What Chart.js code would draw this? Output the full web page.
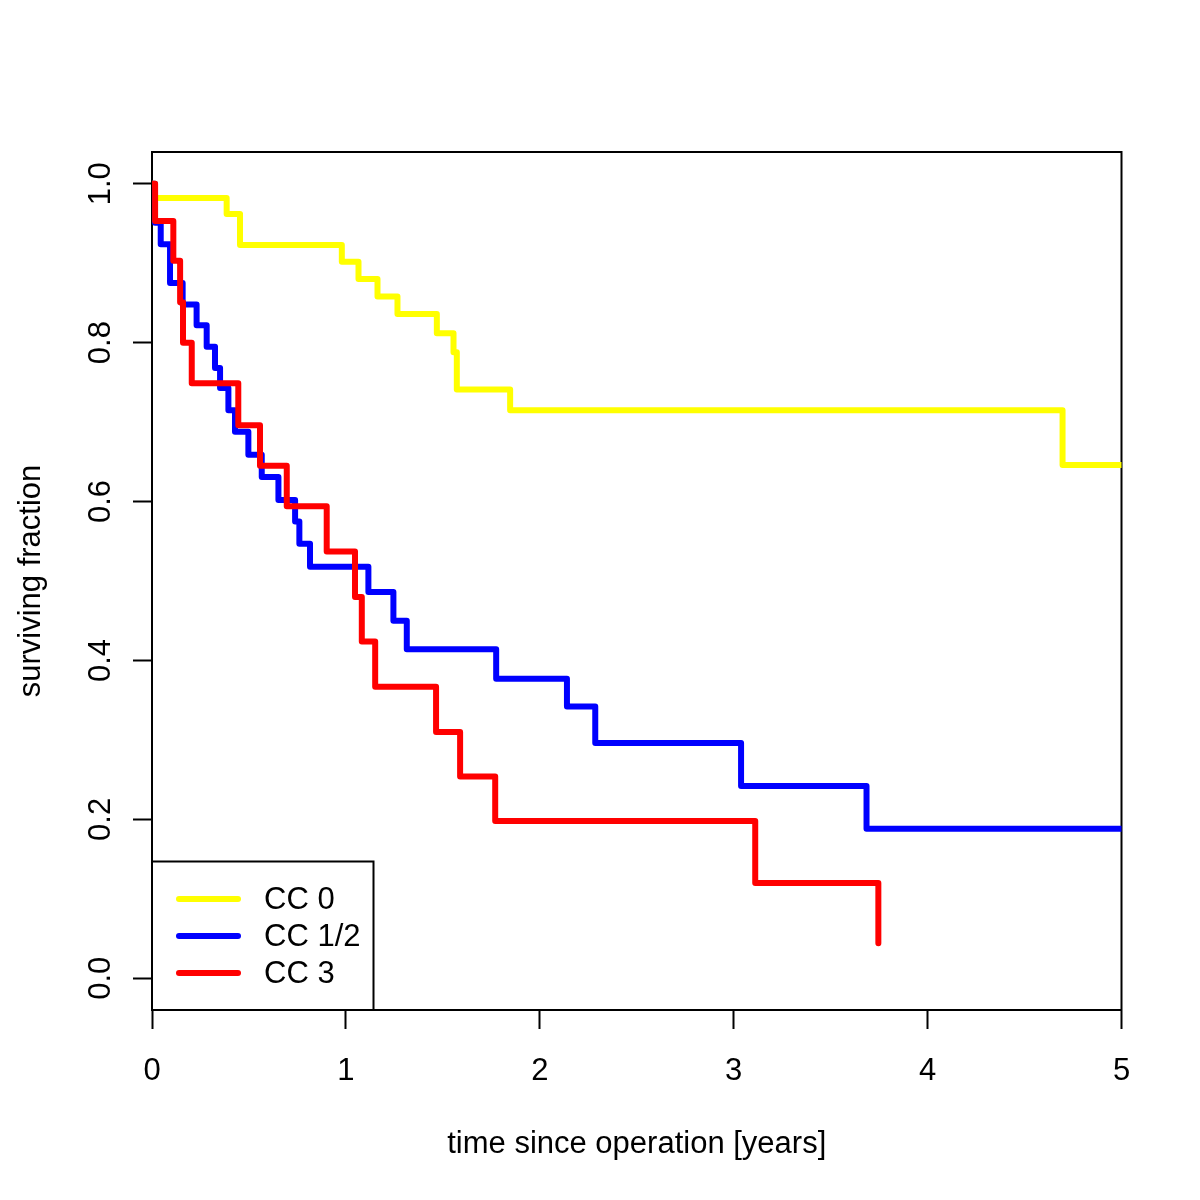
<!DOCTYPE html>
<html>
<head>
<meta charset="utf-8">
<script src="https://cdn.jsdelivr.net/npm/chart.js@4.4.1/dist/chart.umd.min.js"></script>
<style>
  html, body { margin: 0; padding: 0; background: #fff; }
  canvas { display: block; }
</style>
</head>
<body>
<canvas id="km" width="1200" height="1200"></canvas>
<script>
// Kaplan-Meier curves (time in years, surviving fraction)
const cc0Time = [0, 0.015, 0.385, 0.454, 0.979, 1.065, 1.163, 1.266, 1.469, 1.555, 1.572, 1.847, 4.696, 5.0];
const cc0Surv = [1.0, 0.982, 0.962, 0.923, 0.902, 0.880, 0.858, 0.836, 0.812, 0.788, 0.741, 0.715, 0.646, 0.646];

const cc12Time = [0, 0.015, 0.045, 0.093, 0.158, 0.230, 0.282, 0.325, 0.351, 0.394, 0.428, 0.497, 0.566, 0.652, 0.738, 0.760, 0.815, 1.116, 1.245, 1.314, 1.775, 2.140, 2.286, 3.038, 3.685, 5.0];
const cc12Surv = [1.0, 0.951, 0.924, 0.875, 0.848, 0.822, 0.795, 0.768, 0.743, 0.715, 0.688, 0.659, 0.631, 0.602, 0.575, 0.547, 0.518, 0.486, 0.450, 0.414, 0.377, 0.342, 0.296, 0.242, 0.188, 0.188];

const cc3Time = [0, 0.016, 0.110, 0.145, 0.160, 0.205, 0.445, 0.557, 0.695, 0.901, 1.047, 1.082, 1.151, 1.465, 1.589, 1.770, 3.111, 3.746];
const cc3Surv = [1.0, 0.953, 0.903, 0.851, 0.800, 0.749, 0.696, 0.645, 0.594, 0.537, 0.480, 0.424, 0.367, 0.310, 0.254, 0.198, 0.120, 0.044];

const groupNames = ["CC 0", "CC 1/2", "CC 3"];
const xTicks = [0, 1, 2, 3, 4, 5];
const yTicks = [0, 0.2, 0.4, 0.6, 0.8, 1.0];

const FONT = "'Liberation Sans', Arial, Helvetica, sans-serif";
const FSIZE = 31;
Chart.defaults.font.family = FONT;
Chart.defaults.font.size = FSIZE;
Chart.defaults.color = "#000";

function toPoints(ts, ss) {
  return ts.map((t, i) => ({ x: t, y: ss[i] }));
}

// survival stays flat until the next event time, then drops
function curve(label, ts, ss, color, order) {
  return {
    label: label,
    data: toPoints(ts, ss),
    borderColor: color,
    backgroundColor: color,
    borderWidth: 6,
    stepped: "before",
    pointRadius: 0,
    fill: false,
    borderCapStyle: "round",
    borderJoinStyle: "round",
    order: order
  };
}

// box around the plot region, like R's bty="o"
const boxPlugin = {
  id: "plotBox",
  beforeDatasetsDraw(chart) {
    const a = chart.chartArea, ctx = chart.ctx;
    ctx.save();
    ctx.strokeStyle = "#000";
    ctx.lineWidth = 2;
    ctx.strokeRect(a.left, a.top, a.right - a.left, a.bottom - a.top);
    ctx.restore();
  }
};

const cc0Idx = 2, cc12Idx = 1, cc3Idx = 0;

// legend in the bottom-left corner
const legendPlugin = {
  id: "rLegend",
  afterDatasetsDraw(chart) {
    const a = chart.chartArea, ctx = chart.ctx;
    const w = 221.5, h = 148.5;
    const x0 = a.left, y0 = a.bottom - h;
    ctx.save();
    ctx.fillStyle = "#fff";
    ctx.fillRect(x0, y0, w, h);
    ctx.strokeStyle = "#000";
    ctx.lineWidth = 2;
    ctx.strokeRect(x0, y0, w, h);
    [cc0Idx, cc12Idx, cc3Idx].forEach((di, i) => {
      const ds = chart.data.datasets[di];
      const y = y0 + 37.5 + i * 37;
      ctx.strokeStyle = ds.borderColor;
      ctx.lineWidth = 6;
      ctx.lineCap = "round";
      ctx.beginPath();
      ctx.moveTo(x0 + 27, y);
      ctx.lineTo(x0 + 86, y);
      ctx.stroke();
      ctx.fillStyle = "#000";
      ctx.font = FSIZE + "px " + FONT;
      ctx.textBaseline = "middle";
      ctx.textAlign = "left";
      ctx.fillText(ds.label, x0 + 112, y + 1);
    });
    ctx.restore();
  }
};

new Chart(document.getElementById("km"), {
  type: "line",
  data: {
    datasets: [
      curve(groupNames[2], cc3Time, cc3Surv, "#ff0000", 0),
      curve(groupNames[1], cc12Time, cc12Surv, "#0000ff", 1),
      curve(groupNames[0], cc0Time, cc0Surv, "#ffff00", 2)
    ]
  },
  options: {
    responsive: false,
    animation: false,
    layout: { padding: { top: 152, right: 78.5, left: 0, bottom: 0 } },
    plugins: {
      legend: { display: false },
      tooltip: { enabled: false }
    },
    scales: {
      x: {
        type: "linear",
        min: 0,
        max: 5,
        afterBuildTicks: s => { s.ticks = xTicks.map(v => ({ value: v })); },
        afterFit: s => { s.height = 190; },
        ticks: {
          padding: 24,
          maxRotation: 0,
          callback: v => String(v)
        },
        grid: {
          drawOnChartArea: false,
          drawTicks: true,
          tickLength: 19,
          tickWidth: 2,
          tickColor: "#000"
        },
        border: { display: true, color: "#000", width: 2 },
        title: {
          display: true,
          text: "time since operation [years]",
          padding: { top: 0, bottom: 37 }
        }
      },
      y: {
        type: "linear",
        min: -0.04,
        max: 1.04,
        afterBuildTicks: s => { s.ticks = yTicks.map(v => ({ value: v })); },
        afterFit: s => { s.width = 152; },
        ticks: {
          padding: 10,
          minRotation: 90,
          maxRotation: 90,
          crossAlign: "center",
          callback: v => Number(v).toFixed(1)
        },
        grid: {
          drawOnChartArea: false,
          drawTicks: true,
          tickLength: 19,
          tickWidth: 2,
          tickColor: "#000"
        },
        border: { display: true, color: "#000", width: 2 },
        title: {
          display: true,
          text: "surviving fraction",
          padding: { top: 13, bottom: 0 }
        }
      }
    }
  },
  plugins: [boxPlugin, legendPlugin]
});
</script>
</body>
</html>
